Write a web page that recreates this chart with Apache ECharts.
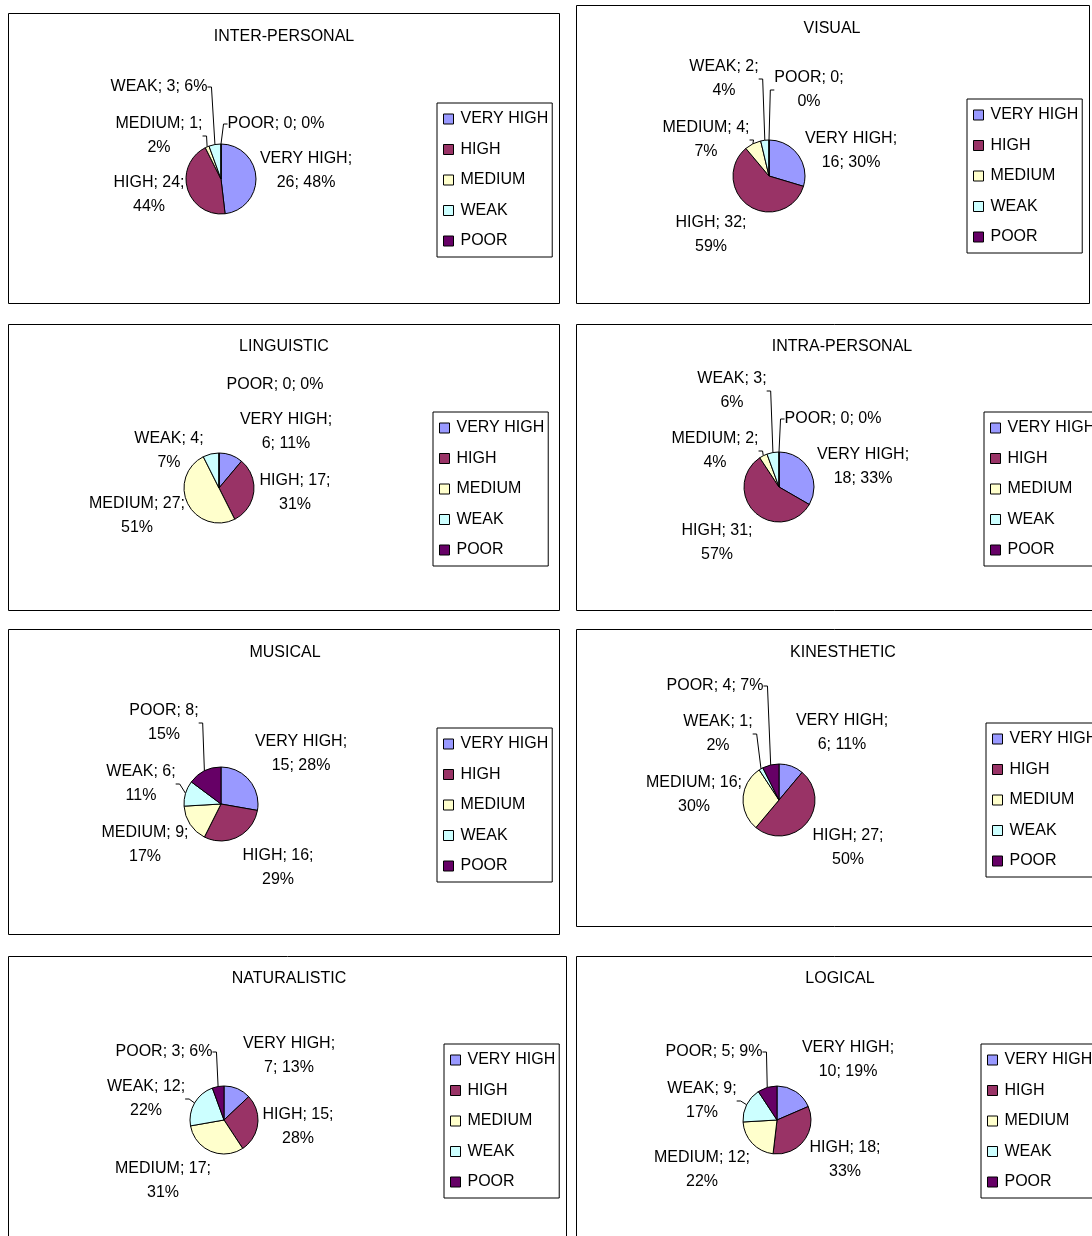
<!DOCTYPE html>
<html><head><meta charset="utf-8">
<script src="https://cdn.jsdelivr.net/npm/echarts@6/dist/echarts.min.js"></script>
<style>html,body{margin:0;padding:0;background:#fff}#c{width:1092px;height:1236px}</style>
</head><body><div id="c"></div>
<script>
// ---- data ----
const categories = ['VERY HIGH', 'HIGH', 'MEDIUM', 'WEAK', 'POOR'];
const chartTitles = ['INTER-PERSONAL', 'VISUAL', 'LINGUISTIC', 'INTRA-PERSONAL', 'MUSICAL', 'KINESTHETIC', 'NATURALISTIC', 'LOGICAL'];
const interPersonal = [26, 24, 1, 3, 0];
const visual = [16, 32, 4, 2, 0];
const linguistic = [6, 17, 27, 4, 0];
const intraPersonal = [18, 31, 2, 3, 0];
const musical = [15, 16, 9, 6, 8];
const kinesthetic = [6, 27, 16, 1, 4];
const naturalistic = [7, 15, 17, 12, 3];
const logical = [10, 18, 12, 9, 5];
// percentages exactly as printed on the labels
const interPersonalPct = [48, 44, 2, 6, 0];
const visualPct = [30, 59, 7, 4, 0];
const linguisticPct = [11, 31, 51, 7, 0];
const intraPersonalPct = [33, 57, 4, 6, 0];
const musicalPct = [28, 29, 17, 11, 15];
const kinestheticPct = [11, 50, 30, 2, 7];
const naturalisticPct = [13, 28, 31, 22, 6];
const logicalPct = [19, 33, 22, 17, 9];

const seriesValues = [interPersonal, visual, linguistic, intraPersonal, musical, kinesthetic, naturalistic, logical];
const seriesPct = [interPersonalPct, visualPct, linguisticPct, intraPersonalPct, musicalPct, kinestheticPct, naturalisticPct, logicalPct];

// ---- layout (positions / sizes / styles) ----
const FONT = 'Liberation Sans, Arial, sans-serif';
const colors = ['#9999FF', '#993366', '#FFFFCC', '#CCFFFF', '#660066'];
// lbl: label block centre offset from the pie centre, in category order
const panels = [
  { box: [8, 13, 551, 290],    title: [284, 37],  center: [221, 179],  r: 35, legend: [437, 103],
    oneLine: ['WEAK', 'POOR'], leaders: ['MEDIUM', 'WEAK', 'POOR'],
    lbl: [[85, -8], [-72, 16], [-62, -43], [-62, -92], [55, -55]] },
  { box: [576, 5, 513, 298],   title: [832, 29],  center: [769, 176],  r: 36, legend: [967, 99],
    oneLine: [], leaders: ['MEDIUM', 'WEAK', 'POOR'],
    lbl: [[82, -25], [-58, 59], [-63, -36], [-45, -97], [40, -86]] },
  { box: [8, 324, 551, 286],   title: [284, 347], center: [219, 488],  r: 35, legend: [433, 412],
    oneLine: ['POOR'], leaders: [],
    lbl: [[67, -56], [76, 5], [-82, 28], [-50, -37], [56, -103]] },
  { box: [576, 324, 530, 286], title: [842, 347], center: [779, 487],  r: 35, legend: [984, 412],
    oneLine: ['POOR'], leaders: ['MEDIUM', 'WEAK', 'POOR'],
    lbl: [[84, -20], [-62, 56], [-64, -36], [-47, -96], [54, -68]] },
  { box: [8, 629, 551, 305],   title: [285, 653], center: [221, 804],  r: 37, legend: [437, 728],
    oneLine: [], leaders: ['WEAK', 'POOR'],
    lbl: [[80, -50], [57, 64], [-76, 41], [-80, -20], [-57, -81]] },
  { box: [576, 629, 530, 297], title: [843, 653], center: [779, 800],  r: 36, legend: [986, 723],
    oneLine: ['POOR'], leaders: ['WEAK', 'POOR'],
    lbl: [[63, -67], [69, 48], [-85, -5], [-61, -66], [-64, -114]] },
  { box: [8, 956, 558, 300],   title: [289, 979], center: [224, 1120], r: 34, legend: [444, 1044],
    oneLine: ['POOR'], leaders: ['WEAK', 'POOR'],
    lbl: [[65, -64], [74, 7], [-61, 61], [-78, -21], [-60, -68]] },
  { box: [576, 956, 530, 300], title: [840, 979], center: [777, 1120], r: 34, legend: [981, 1044],
    oneLine: ['POOR'], leaders: ['WEAK', 'POOR'],
    lbl: [[71, -60], [68, 40], [-75, 50], [-75, -19], [-63, -68]] }
];
const breakAfterName = ['VERY HIGH'];
const STUB = 4;

const chart = echarts.init(document.getElementById('c'), null, { renderer: 'canvas' });

const option = {
  animation: false,
  color: colors,
  textStyle: { fontFamily: FONT },
  graphic: panels.map(p => ({
    type: 'rect', silent: true, z: -10,
    shape: { x: p.box[0] + 0.5, y: p.box[1] + 0.5, width: p.box[2], height: p.box[3] },
    style: { fill: '#fff', stroke: '#000', lineWidth: 1 }
  })),
  title: panels.map((p, i) => ({
    text: chartTitles[i],
    left: p.title[0], top: p.title[1],
    textAlign: 'center', textVerticalAlign: 'middle', padding: 0,
    textStyle: { fontSize: 16, fontWeight: 'normal', color: '#000', fontFamily: FONT }
  })),
  legend: panels.map(p => ({
    data: categories,
    orient: 'vertical',
    left: p.legend[0], top: p.legend[1],
    icon: 'rect', itemWidth: 10, itemHeight: 10, itemGap: 14.5,
    padding: [8, 4, 8, 6],
    borderColor: '#000', borderWidth: 1,
    selectedMode: false,
    itemStyle: { borderColor: '#000', borderWidth: 1 },
    textStyle: { fontSize: 16, lineHeight: 16, color: '#000', fontFamily: FONT, padding: [0, 0, 0, 2] }
  })),
  series: panels.map((p, i) => ({
    type: 'pie',
    center: p.center,
    radius: p.r,
    startAngle: 90,
    clockwise: true,
    avoidLabelOverlap: false,
    emphasis: { disabled: true },
    itemStyle: { borderColor: '#000', borderWidth: 1 },
    data: categories.map((c, j) => ({
      name: c, value: seriesValues[i][j],
      labelLine: { show: p.leaders.includes(c) }
    })),
    label: {
      show: true, position: 'outside',
      fontSize: 16, lineHeight: 24, color: '#000', fontFamily: FONT,
      formatter: prm => {
        const pc = seriesPct[i][prm.dataIndex] + '%';
        if (p.oneLine.includes(prm.name)) return prm.name + '; ' + prm.value + '; ' + pc;
        if (breakAfterName.includes(prm.name)) return prm.name + ';\n' + prm.value + '; ' + pc;
        return prm.name + '; ' + prm.value + ';\n' + pc;
      }
    },
    labelLine: { length: 6, length2: 4, lineStyle: { color: '#000', width: 1 } },
    labelLayout: prm => {
      const o = p.lbl[prm.dataIndex];
      const x = p.center[0] + o[0], y = p.center[1] + o[1];
      const res = { x: x, y: y, align: 'center', verticalAlign: 'middle' };
      const pts = prm.labelLinePoints;
      if (pts && pts.length && p.leaders.includes(categories[prm.dataIndex])) {
        const a = pts[0];
        const hw = prm.labelRect.width / 2;
        const side = a[0] >= x ? 1 : -1;
        const ex = x + side * hw;
        res.labelLinePoints = [[a[0], a[1]], [ex + side * STUB, y], [ex, y]];
      }
      return res;
    }
  }))
};
chart.setOption(option);
</script>
</body></html>
